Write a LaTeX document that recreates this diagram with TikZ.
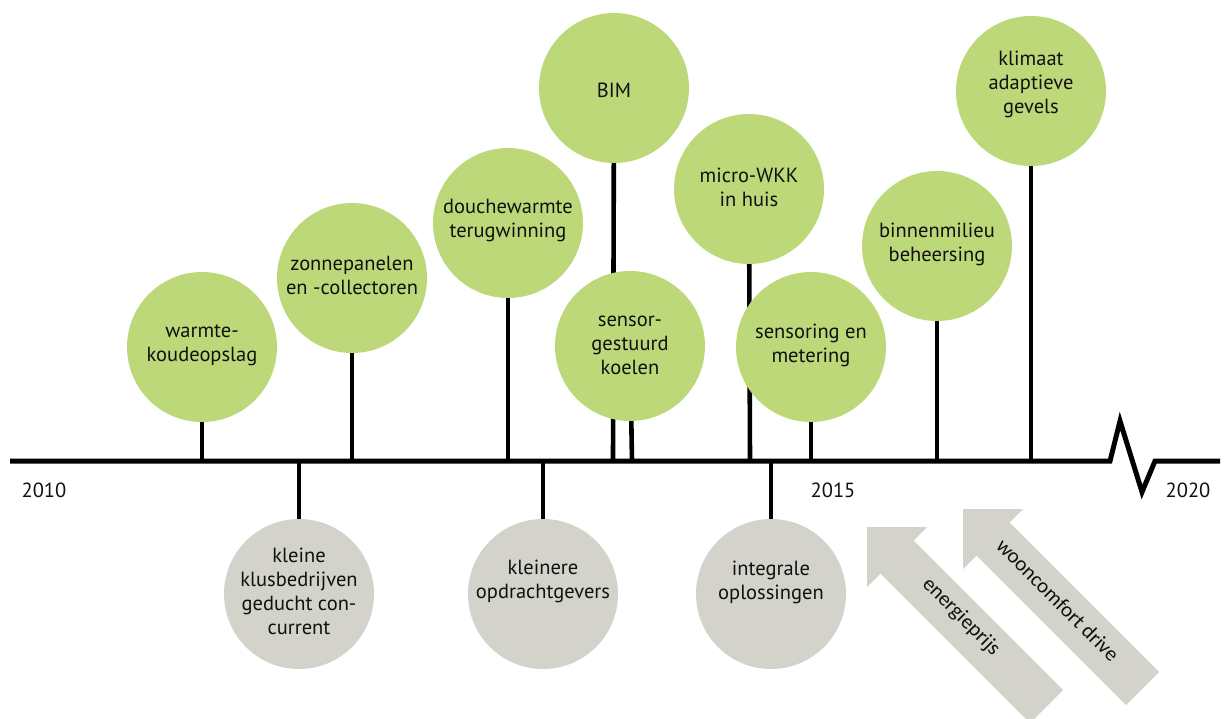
\documentclass[tikz,border=0pt]{standalone}
\usepackage{fontspec}
\setmainfont{PT Sans}
\newfontfamily\arrowfont{Carlito}
\usetikzlibrary{backgrounds}
\definecolor{lgreen}{HTML}{BDD879}
\definecolor{lgrey}{HTML}{D3D2CB}
\definecolor{ink}{HTML}{111111}
\begin{document}
\begin{tikzpicture}[x=1pt,y=-1pt,
  bub/.style={circle, minimum size=150pt, inner sep=0pt, fill=lgreen},
  gbub/.style={bub, fill=lgrey},
  txt/.style={align=center, font=\fontsize{20.5}{24}\selectfont, text=ink, inner sep=0pt},
  stem/.style={line width=4.6pt, draw=black},
  axisline/.style={line width=5pt, miter limit=30, draw=black},
  yr/.style={font=\fontsize{20.5}{24}\selectfont, text=ink, inner sep=0pt},
  pusharrow/.style={fill=lgrey},
  ptxt/.style={font=\arrowfont\fontsize{21}{24}\selectfont, rotate=-45, inner sep=0pt, text=ink}]
\useasboundingbox (0,0) rectangle (1226,718);
\clip (0,0) rectangle (1226,718);

% circles
\node[bub] (g1) at (202,347) {};
\node[bub] (g2) at (352,278) {};
\node[bub] (g3) at (508,223) {};
\node[bub] (g4) at (614,88) {};
\node[bub] (g6) at (749,189) {};
\node[bub] (g5) at (630,346) {};
\node[bub] (g7) at (811,347) {};
\node[bub] (g8) at (937,246) {};
\node[bub] (g9) at (1031,91) {};
\node[gbub] (r1) at (299,594) {};
\node[gbub] (r2) at (543,594) {};
\node[gbub] (r3) at (771,594) {};

% texts
\node[txt] (t1) at (202,345) {warmte-\\koudeopslag};
\node[txt] (t2) at (352,275) {zonnepanelen\\en -collectoren};
\node[txt] (t3) at (508,220) {douchewarmte\\terugwinning};
\node[txt] (t4) at (614,90) {BIM};
\node[txt] (t5) at (630,345) {sensor-\\gestuurd\\koelen};
\node[txt] (t6) at (749,187) {micro-WKK\\in huis};
\node[txt] (t7) at (811,345) {sensoring en\\metering};
\node[txt] (t8) at (937,244) {binnenmilieu\\beheersing};
\node[txt] (t9) at (1031,84) {klimaat\\adaptieve\\gevels};
\node[txt] (u1) at (299,591) {kleine\\klusbedrijven\\geducht con-\\current};
\node[txt] (u2) at (543,581) {kleinere\\opdrachtgevers};
\node[txt] (u3) at (771,582) {integrale\\oplossingen};

% timeline
\coordinate (a0) at (10,461);
\coordinate (a1) at (1110,461);
\coordinate (z1) at (1120,421);
\coordinate (z2) at (1142,492);
\coordinate (a2) at (1155,461);
\coordinate (a3) at (1220,461);
\draw[axisline] (a0) -- (a1) -- (z1) -- (z2) -- (a2) -- (a3);

\foreach \n/\x in {s1/202,s2/352,s3/508,s4/613,s5/632,s6/750,s7/811,s8/937,s9/1031,d1/299,d2/543,d3/771}
  \coordinate (\n) at (\x,461);

\begin{scope}[on background layer]
  \draw[stem] (g1) -- (s1);
  \draw[stem] (g2) -- (s2);
  \draw[stem] (g3) -- (s3);
  \draw[stem] (g4.center) -- (s4);
  \draw[stem] (g5.center) -- (s5);
  \draw[stem] (g6.center) -- (s6);
  \draw[stem] (g7) -- (s7);
  \draw[stem] (g8) -- (s8);
  \draw[stem] (g9) -- (s9);
  \draw[stem] (r1) -- (d1);
  \draw[stem] (r2) -- (d2);
  \draw[stem] (r3) -- (d3);
\end{scope}

% years
\node[yr] (y1) at (44,490) {2010};
\node[yr] (y2) at (833,490) {2015};
\node[yr] (y3) at (1188,490) {2020};

% push arrows
\fill[pusharrow] (867,527) -- +(60,0) -- +(46.6,13.4) -- +(196,163) -- +(163,196) -- +(13.4,46.6) -- +(0,60) -- cycle;
\fill[pusharrow] (963,509) -- +(60,0) -- +(46.6,13.4) -- +(196,163) -- +(163,196) -- +(13.4,46.6) -- +(0,60) -- cycle;
\node[ptxt] (p1) at (961,617) {energieprijs};
\node[ptxt] (p2) at (1058,600) {wooncomfort drive};
\end{tikzpicture}
\end{document}
